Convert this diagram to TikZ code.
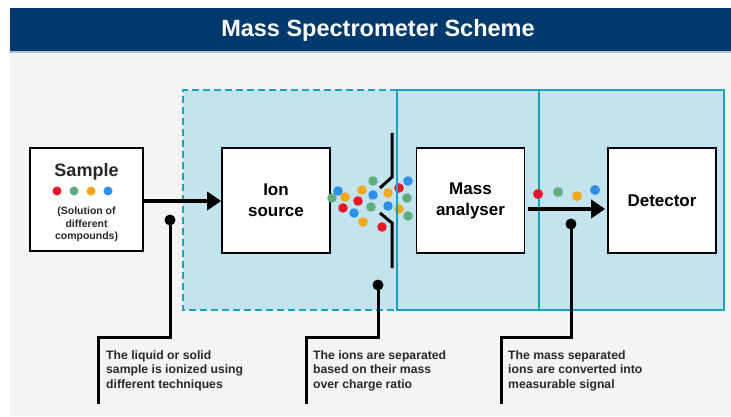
\documentclass[tikz,border=0pt]{standalone}
\usepackage{fontspec}
\setmainfont{Liberation Sans}
\usetikzlibrary{arrows.meta}
\definecolor{navy}{RGB}{0,58,108}
\definecolor{panel}{RGB}{244,244,244}
\definecolor{lblue}{RGB}{195,228,238}
\definecolor{teal}{RGB}{26,163,192}
\definecolor{dred}{RGB}{232,24,44}
\definecolor{dgreen}{RGB}{95,173,124}
\definecolor{dorange}{RGB}{242,168,29}
\definecolor{dblue}{RGB}{46,143,232}
\definecolor{txt}{RGB}{40,40,40}
\tikzset{
  stage/.style={draw=black, line width=1.6pt, fill=white, minimum width=108pt, minimum height=105pt, inner sep=0pt, align=center, font=\fontsize{17}{21}\selectfont\bfseries},
  thickarrow/.style={line width=3.6pt, -{Triangle[length=14pt,width=18pt]}},
  lead/.style={line width=3pt, line cap=butt},
  pin/.style={circle, fill=black, inner sep=0pt, minimum size=11pt},
  note/.style={anchor=north west, align=left, inner sep=0pt, text=txt, font=\fontsize{12.2}{14.5}\selectfont\bfseries},
  dot/.style={circle, inner sep=0pt, minimum size=9pt}
}
\begin{document}
\begin{tikzpicture}[x=1pt,y=-1pt]
\useasboundingbox (0,0) rectangle (731,417);
\fill[white] (0,0) rectangle (731,417);
% panel and title
\fill[panel] (10,51) rectangle (731,416);
\fill[navy] (10,8) rectangle (731,51);
\fill[navy!30] (10,51) rectangle (731,53);
\node[text=white, font=\fontsize{23.5}{28}\selectfont\bfseries] (title) at (378,30) {Mass Spectrometer Scheme};
% regions
\fill[lblue] (183,90) rectangle (724,310);
\draw[teal, line width=2pt, dash pattern=on 7pt off 4pt] (397,90) -- (183,90) -- (183,310) -- (397,310);
\draw[teal, line width=2pt] (397,90) rectangle (724,310);
\draw[teal, line width=2pt] (539,90) -- (539,310);
% sample box
\node[stage, minimum width=113pt, minimum height=103pt] (sample) at (86.5,199.5) {};
\node[font=\fontsize{18}{21}\selectfont\bfseries, text=txt] (samplet) at (86.5,172) {Sample};
\node[dot, fill=dred] (s1) at (57,191) {};
\node[dot, fill=dgreen] (s2) at (74,191) {};
\node[dot, fill=dorange] (s3) at (91,191) {};
\node[dot, fill=dblue] (s4) at (108,191) {};
\node[font=\fontsize{10.5}{12.5}\selectfont\bfseries, text=txt, align=center] (samples) at (86.5,224.5) {(Solution of\\different\\compounds)};
% stage boxes
\node[stage] (ion) at (276,200.5) {Ion\\source};
\node[stage] (mass) at (470.5,200.5) {Mass\\analyser};
\node[stage] (det) at (662,200.5) {Detector};
% arrow sample -> ion source
\draw[thickarrow] (sample.east |- 0,201) -- (ion.west |- 0,201);
% ion dots
\foreach \x/\y/\c in {332/198/dgreen,338/191/dblue,345/197/dorange,362/190/dorange,373/181/dgreen,358/201/dred,343/208/dred,354/213/dblue,363/222/dorange,371/207/dgreen,373/195/dblue,388/193/dorange,388/206/dblue,382/227/dred,399/188/dred,408/181/dblue,407/198/dgreen,399/209/dorange,408/216/dgreen}
  \fill[\c] (\x,\y) circle (4.8pt);
% slit
\draw[line width=3pt] (392,133) -- (392,177) -- (380,188);
\draw[line width=3pt] (380,213) -- (392,223) -- (392,268);
\draw[teal, line width=2pt] (397,90) -- (397,310);
% detector dots and arrow
\node[dot, fill=dred, minimum size=10pt] (d1) at (538,194) {};
\node[dot, fill=dgreen, minimum size=10pt] (d2) at (558,192) {};
\node[dot, fill=dorange, minimum size=10pt] (d3) at (577,196) {};
\node[dot, fill=dblue, minimum size=10pt] (d4) at (595,190) {};
\draw[thickarrow] ([xshift=3pt]mass.east |- 0,209) -- ([xshift=-2pt]det.west |- 0,209);
% callouts
\node[pin] (p1) at (170,220) {};
\node[pin] (p2) at (378,285) {};
\node[pin] (p3) at (571,224) {};
\coordinate (e1) at (98,404);
\coordinate (e2) at (306,404);
\coordinate (e3) at (501,404);
\draw[lead] (p1.center) -- (170,337) -- (98,337) -- (e1);
\draw[lead] (p2.center) -- (378,337) -- (306,337) -- (e2);
\draw[lead] (p3.center) -- (571,337) -- (501,337) -- (e3);
\node[note] (n1) at (106,350) {The liquid or solid\\sample is ionized using\\different techniques};
\node[note] (n2) at (313,350) {The ions are separated\\based on their mass\\over charge ratio};
\node[note] (n3) at (508,350) {The mass separated\\ions are converted into\\measurable signal};
\end{tikzpicture}
\end{document}
